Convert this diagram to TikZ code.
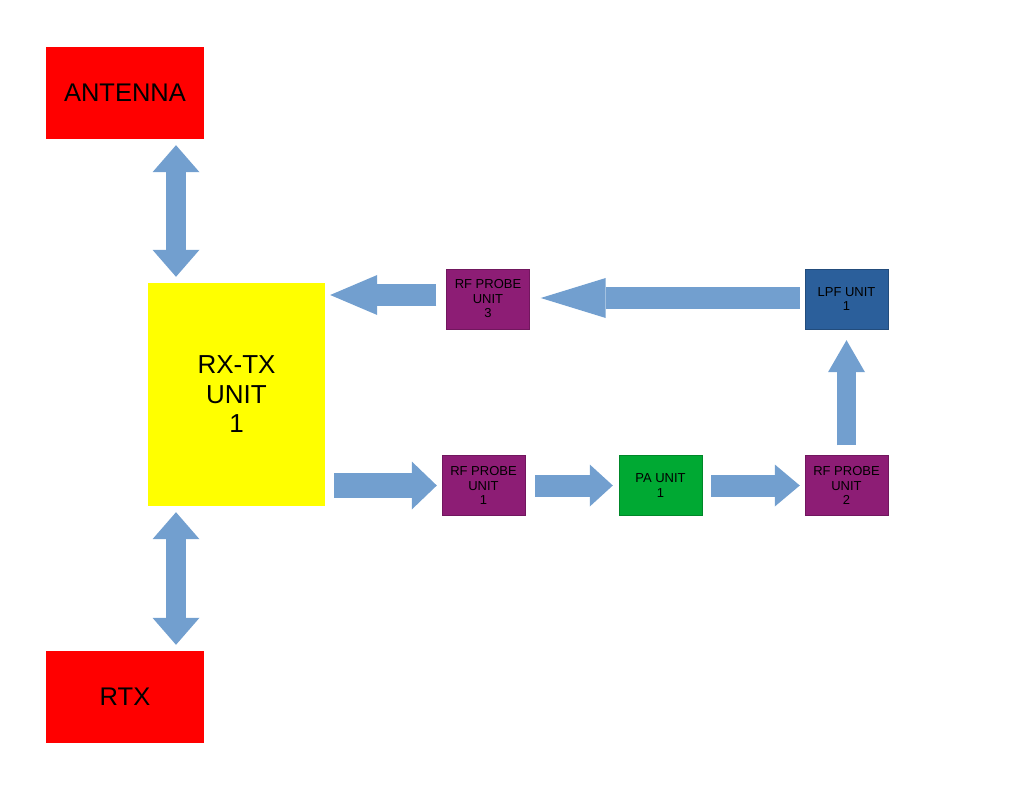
\documentclass[tikz,border=0pt]{standalone}
\usepackage{fontspec}
\setmainfont{Liberation Sans}
\usetikzlibrary{arrows.meta,positioning}
\definecolor{boxred}{HTML}{FF0000}
\definecolor{boxyellow}{HTML}{FFFF00}
\definecolor{probepurple}{HTML}{8D1D75}
\definecolor{lpfblue}{HTML}{2B5F9B}
\definecolor{pagreen}{HTML}{00A933}
\definecolor{flowblue}{HTML}{729FCF}

\tikzset{
  endbox/.style={fill=boxred, minimum width=158pt, minimum height=92pt, inner sep=0pt, font=\fontsize{25.5}{30}\selectfont},
  unitbox/.style={minimum width=83pt, minimum height=60pt, inner sep=0pt, align=center, font=\fontsize{13}{14.5}\selectfont},
  flow/.style args={#1/#2/#3}{line width=#1, draw=flowblue, -{Triangle[width=#2,length=#3,line width=0pt]}},
  bothflow/.style args={#1/#2/#3}{line width=#1, draw=flowblue, {Triangle[width=#2,length=#3,line width=0pt]}-{Triangle[width=#2,length=#3,line width=0pt]}}
}

\begin{document}
\begin{tikzpicture}[x=1pt,y=-1pt]
\useasboundingbox (0,0) rectangle (1024,791);

% end points
\node[endbox] (ant) at (125,93) {ANTENNA};
\node[endbox] (rtx) at (125,697) {RTX};

% transceiver
\node[fill=boxyellow, minimum width=177pt, minimum height=223pt, inner sep=0pt, align=center,
      font=\fontsize{26}{29.5}\selectfont] (rxtx) at (236.5,394.5) {RX-TX\\UNIT\\1};

% units
\node[unitbox, fill=probepurple, draw=probepurple!80!black] (rfc) at (488,299) {RF PROBE\\UNIT\\3};
\node[unitbox, fill=lpfblue, draw=lpfblue!80!black] (lpf) at (846.5,299) {LPF UNIT\\1};
\node[unitbox, fill=probepurple, draw=probepurple!80!black] (rfa) at (483.5,485.5) {RF PROBE\\UNIT\\1};
\node[unitbox, fill=pagreen, draw=pagreen!80!black] (pa) at (660.5,485.5) {PA UNIT\\1};
\node[unitbox, fill=probepurple, draw=probepurple!80!black] (rfb) at (846.5,485.5) {RF PROBE\\UNIT\\2};

% block arrows
\draw[bothflow=20pt/47pt/27pt, shorten <=6pt, shorten >=6pt] ([xshift=51pt]ant.south) -- ([xshift=51pt]ant.south |- rxtx.north);
\draw[bothflow=20pt/47pt/27pt, shorten <=6pt, shorten >=6pt] ([xshift=51pt]ant.south |- rxtx.south) -- ([xshift=51pt]rtx.north);
\draw[flow=25pt/48pt/25pt, shorten <=9pt, shorten >=5pt] (rxtx.east |- rfa.west) -- (rfa.west);
\draw[flow=22pt/42pt/23pt, shorten <=10pt, shorten >=6pt] (rfa) -- (pa);
\draw[flow=22pt/42pt/25pt, shorten <=9pt, shorten >=5pt] (pa) -- (rfb);
\draw[flow=19pt/37pt/32pt, shorten <=10pt, shorten >=11pt] (rfb) -- (lpf);
\draw[flow=21pt/40pt/65pt, shorten <=5pt, shorten >=11pt] ([yshift=1pt]lpf.west) -- ([yshift=1pt]rfc.east);
\draw[flow=21pt/40pt/47pt, shorten <=10pt, shorten >=5pt] ([yshift=4pt]rfc.west) -- ([yshift=4pt]rfc.west -| rxtx.east);
\end{tikzpicture}
\end{document}
